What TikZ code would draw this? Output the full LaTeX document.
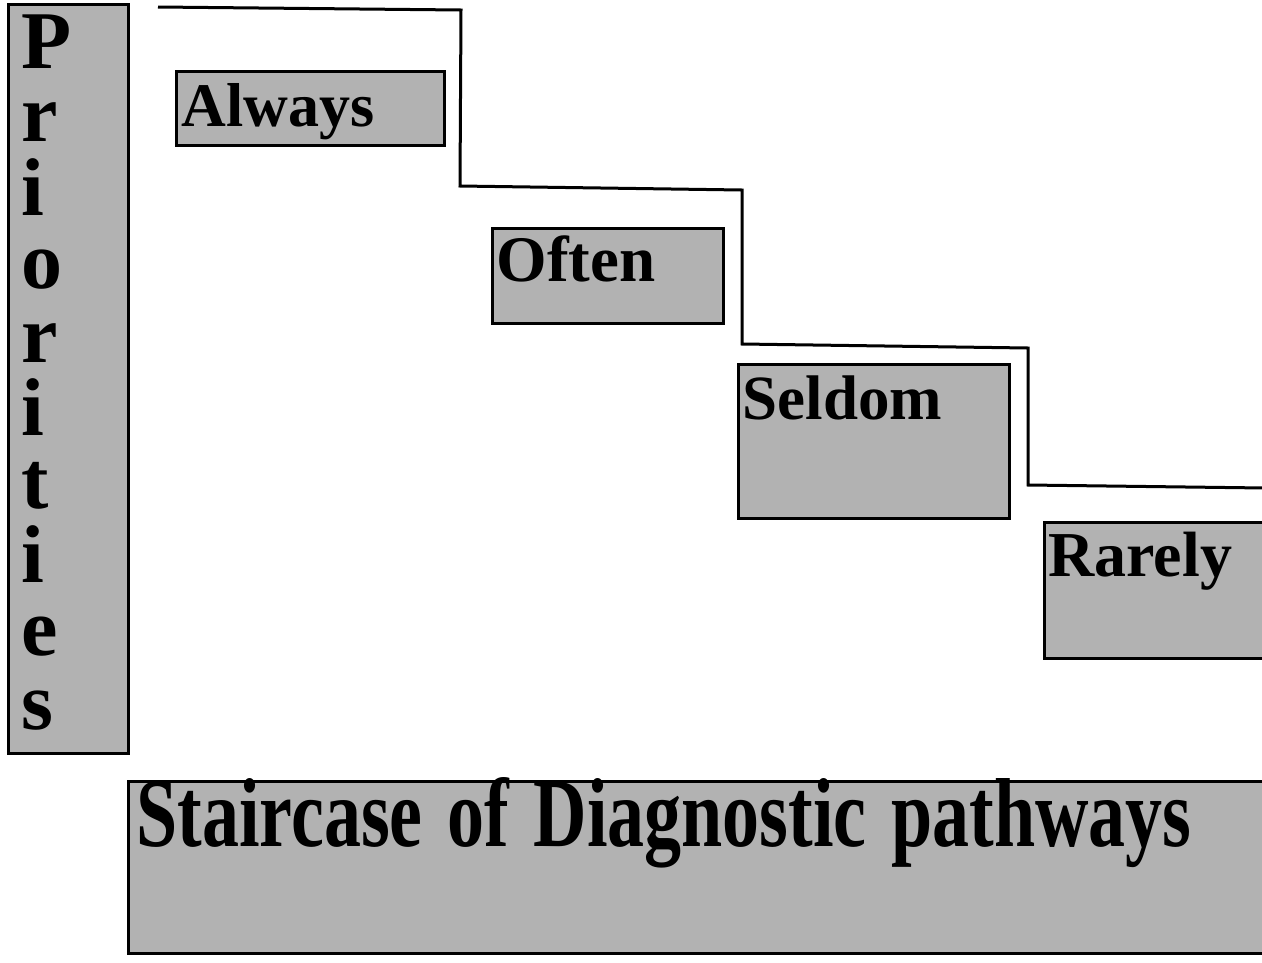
\documentclass[tikz,border=0pt]{standalone}
\usepackage{fontspec}
\setmainfont{Liberation Serif}
\begin{document}
\begin{tikzpicture}[x=1pt,y=-1pt,
  box/.style={draw=black, line width=3pt, fill=black!30, anchor=north west,
    inner ysep=0pt, align=left},
  word/.style={font=\fontsize{#1}{#1}\selectfont\bfseries},
  stair/.style={draw=black, line width=3pt, line join=miter}]
\clip (0,0) rectangle (1262,962);
\fill[white] (0,0) rectangle (1262,962);
% vertical axis label
\node[box, inner xsep=13pt, text width=94pt, text height=64pt, text depth=685pt,
  font=\fontsize{82}{73.4}\selectfont\bfseries] (prio) at (7,3)
  {P\\r\\i\\o\\r\\i\\t\\i\\e\\s};
% staircase line
\coordinate (s0) at (158,7);
\coordinate (s1) at (461,10);
\coordinate (s2) at (460,186);
\coordinate (s3) at (742,190);
\coordinate (s4) at (742,344);
\coordinate (s5) at (1028,348);
\coordinate (s6) at (1028,485);
\coordinate (s7) at (1265,488);
\draw[stair] (s0) -- (s1) -- (s2) -- (s3) -- (s4) -- (s5) -- (s6) -- (s7);
% step labels
\node[box, word=62, inner xsep=5pt, text width=258pt, text height=55pt, text depth=19pt]
  (always) at (175,70) {Always};
\node[box, word=65, inner xsep=4pt, text width=223pt, text height=53pt, text depth=42pt]
  (often) at (491,227) {Often};
\node[box, word=63, inner xsep=4pt, text width=263pt, text height=55pt, text depth=99pt]
  (seldom) at (737,363) {Seldom};
\node[box, word=64, inner xsep=4pt, text width=240pt, text height=54pt, text depth=82pt]
  (rarely) at (1043,521) {Rarely};
% title
\node[box, word=98, inner xsep=8pt, text width=1200pt, text height=65pt, text depth=107pt]
  (title) at (127,780) {\scalebox{0.755}[1]{Staircase of Diagnostic pathways}};
\end{tikzpicture}
\end{document}
